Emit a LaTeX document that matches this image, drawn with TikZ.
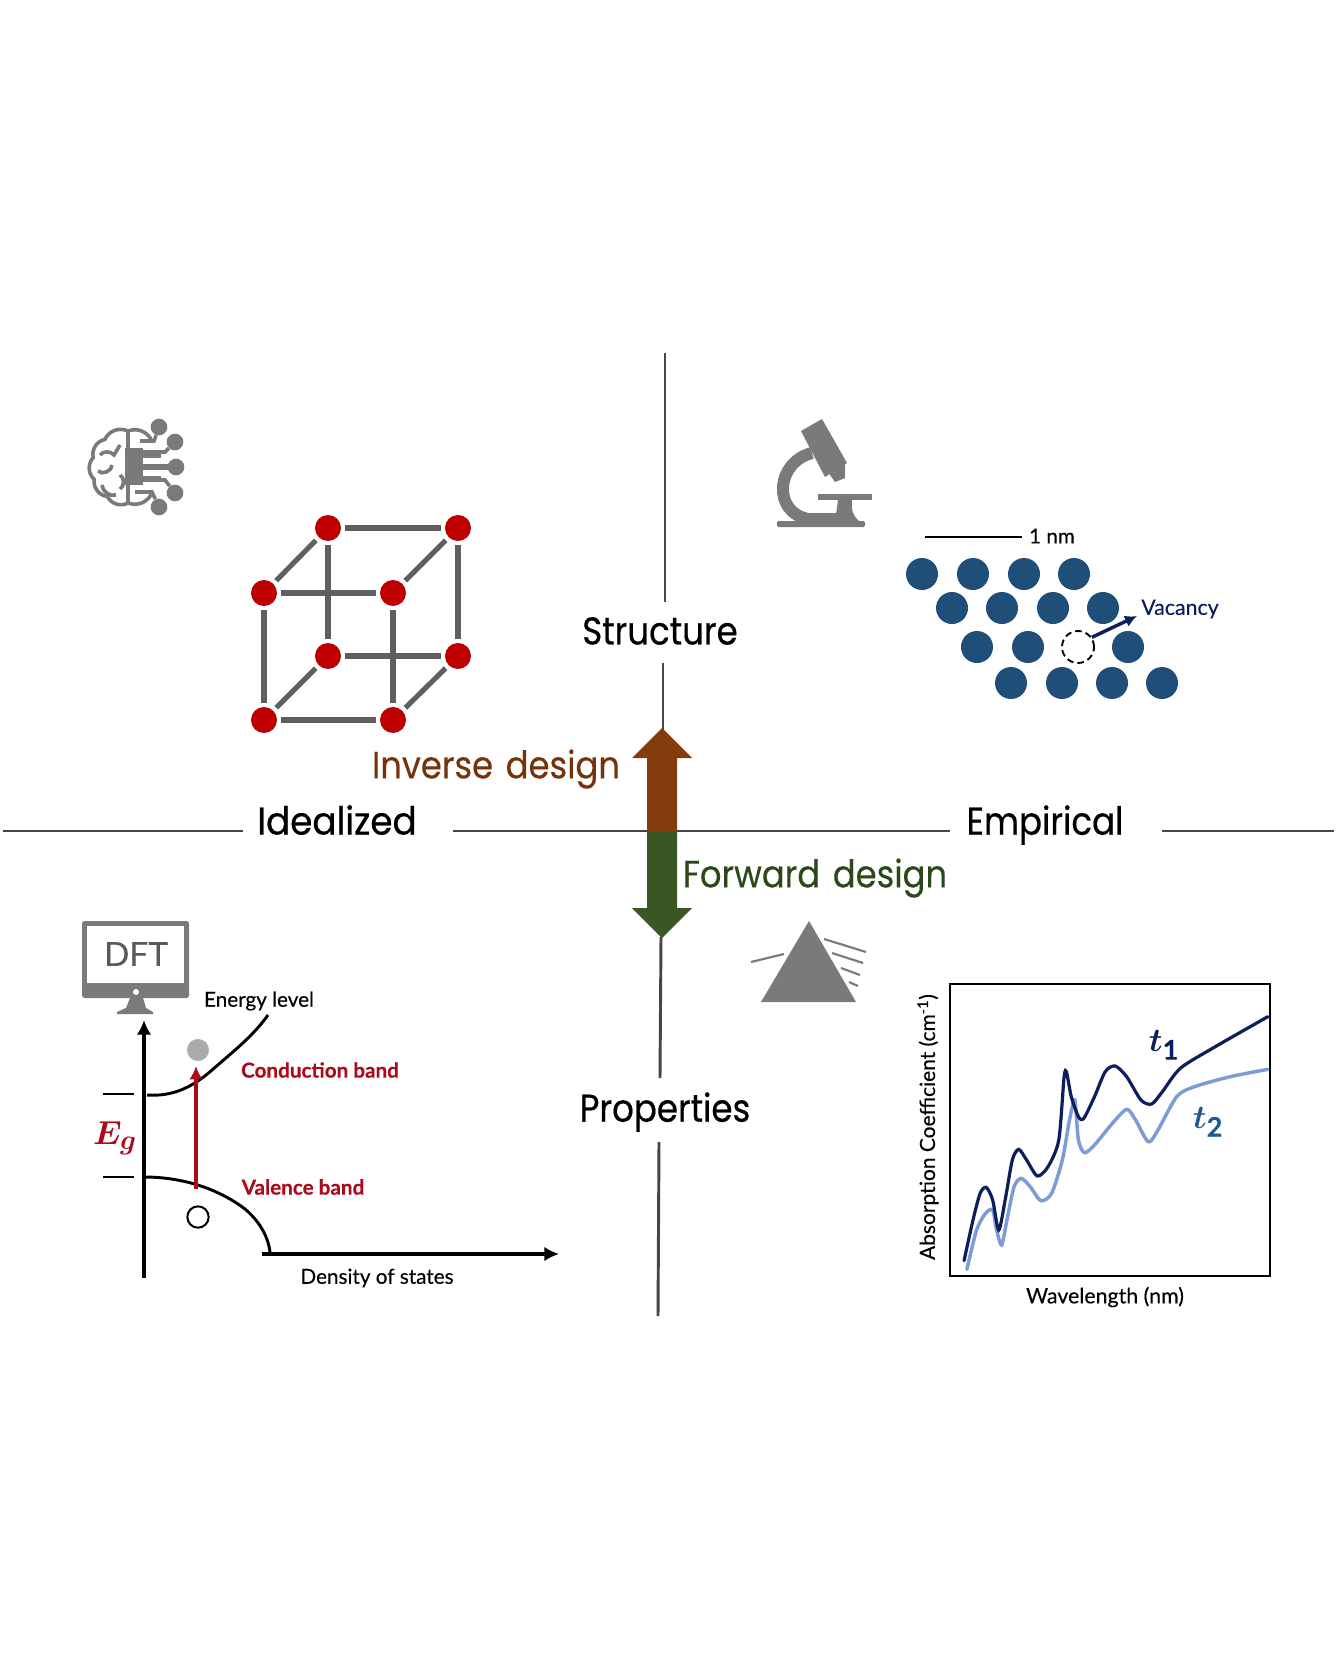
\documentclass[tikz,border=0pt]{standalone}
\usepackage{amsmath,amssymb}
\usepackage{fontspec}
\usepackage{xcolor}
\setmainfont{Lato}[FakeBold=0.25]
\newfontfamily\headfont[FakeStretch=0.88,FakeBold=0.5]{Poppins}
\newfontfamily\designfont[FakeStretch=0.89,WordSpace=1.4,FakeBold=0.2]{Poppins}
\usetikzlibrary{arrows.meta,calc,positioning}
\definecolor{iconGray}{RGB}{122,122,122}
\definecolor{boneGray}{RGB}{95,95,95}
\definecolor{axisGray}{RGB}{70,70,70}
\definecolor{cubeRed}{RGB}{192,0,0}
\definecolor{bandRed}{RGB}{170,10,25}
\definecolor{atomBlue}{RGB}{31,78,121}
\definecolor{deepNavy}{RGB}{12,30,92}
\definecolor{paleBlue}{RGB}{125,155,215}
\definecolor{labelBlue}{RGB}{30,90,145}
\definecolor{inverseBrown}{RGB}{132,60,12}
\definecolor{inverseText}{RGB}{118,50,8}
\definecolor{forwardGreen}{RGB}{56,87,35}
\definecolor{forwardText}{RGB}{42,72,24}

\begin{document}
\begin{tikzpicture}[
    x=0.75pt, y=-0.75pt,
    quadline/.style={draw=axisGray, line width=2.2pt},
    head/.style={font=\headfont\fontsize{29}{32}\selectfont, text=black},
    design/.style={font=\designfont\fontsize{28.5}{32}\selectfont},
    small/.style={font=\fontsize{15.5}{18}\selectfont, text=black, inner sep=0pt},
    band/.style={small, text=bandRed, font=\fontsize{15.5}{18}\selectfont\bfseries},
    cubenode/.style={circle, fill=cubeRed, draw=cubeRed!85!black, line width=0.4pt, minimum size=19pt, inner sep=0pt, outer sep=3.5pt},
    bond/.style={draw=boneGray, line width=3.8pt},
    atom/.style={circle, fill=atomBlue, minimum size=24pt, inner sep=0pt},
    iconline/.style={draw=iconGray, line width=2.7pt},
    chipdot/.style={circle, fill=iconGray, minimum size=12.5pt, inner sep=0pt},
    blackline/.style={draw=black, line width=2.2pt},
    axisarrow/.style={blackline, line width=3pt, -{Latex[length=11pt, width=11pt]}}
  ]
  \useasboundingbox (0,0) rectangle (1336,1670);
  \fill[white] (0,0) rectangle (1336,1670);

  % quadrant lines
  \coordinate (topstart) at (665,353);
  \coordinate (topend) at (665,602);
  \coordinate (midstart) at (663,663);
  \coordinate (tipup) at (663,730);
  \coordinate (tipdown) at (661,937);
  \coordinate (lowend) at (660,1078);
  \coordinate (botstart) at (659,1142);
  \coordinate (botend) at (658,1316);
  \coordinate (leftstart) at (3,831);
  \coordinate (leftend) at (243,831);
  \coordinate (centerstart) at (453,831);
  \coordinate (centerend) at (950,831);
  \coordinate (rightstart) at (1162,831);
  \coordinate (rightend) at (1334,831);
  \draw[quadline] (topstart) -- (topend);
  \draw[quadline] (midstart) -- (tipup);
  \draw[quadline] (tipdown) -- (lowend);
  \draw[quadline] (botstart) -- (botend);
  \draw[quadline] (leftstart) -- (leftend);
  \draw[quadline] (centerstart) -- (centerend);
  \draw[quadline] (rightstart) -- (rightend);

  \node[head] (structure) at (660,631) {Structure};
  \node[head] (properties) at (665,1112) {Properties};
  \node[head, xscale=1.05] (idealized) at (337,820) {Idealized};
  \node[head] (empirical) at (1045,825) {Empirical};

  % design arrows
  \fill[inverseBrown] (662,728) -- (692,758) -- (677,758) -- (677,832) -- (647,832) -- (647,758) -- (632,758) -- cycle;
  \fill[forwardGreen] (647,832) -- (677,832) -- (677,908) -- (692,908) -- (662,938) -- (632,908) -- (647,908) -- cycle;
  \node[design, text=inverseText] (inverse) at (496,769) {Inverse design};
  \node[design, text=forwardText] (forward) at (815,878) {Forward design};

  % cube
  \node[cubenode] (c1) at (328,528) {};
  \node[cubenode] (c2) at (458,528) {};
  \node[cubenode] (c3) at (264,593) {};
  \node[cubenode] (c4) at (393,593) {};
  \node[cubenode] (c5) at (328,656) {};
  \node[cubenode] (c6) at (458,656) {};
  \node[cubenode] (c7) at (264,720) {};
  \node[cubenode] (c8) at (393,720) {};
  \foreach \a/\b in {c1/c2,c1/c3,c2/c4,c3/c4,c1/c5,c2/c6,c5/c6,c3/c7,c4/c8,c7/c8,c5/c7,c6/c8}
    \draw[bond] (\a) -- (\b);

  % brain icon
  \begin{scope}[shift={(128,467)}]
    \draw[iconline, line cap=round] (90:36)
      to[bend left=45] (125:36) to[bend left=45] (160:36) to[bend left=45] (195:36)
      to[bend left=45] (230:36) to[bend left=45] (270:36);
    \draw[iconline] (90:36) to[bend right=40] (50:36);
    \draw[iconline] (270:36) to[bend left=40] (-50:36);
    \draw[iconline] (0,-36) -- (0,36);
    \draw[iconline] (-28,-12) to[bend left=50] (-14,-12) -- (-8,-22);
    \draw[iconline] (-30,4) to[bend right=70] (-16,-2);
    \draw[iconline] (-8,8) to[bend left=60] (-8,22);
    \draw[iconline] (-26,18) to[bend right=50] (-12,28);
    \fill[iconGray] (-3,-19) rectangle (15,18);
    \fill[iconGray] (15,-15) rectangle (33,-9);
    \fill[iconGray] (15,-3) rectangle (40,3);
    \fill[iconGray] (15,9) rectangle (33,15);
  \end{scope}
  \node[chipdot] (dot1) at (159,427) {};
  \node[chipdot] (dot2) at (175,442) {};
  \node[chipdot] (dot3) at (176,467) {};
  \node[chipdot] (dot4) at (175,493) {};
  \node[chipdot] (dot5) at (159,507) {};
  \draw[iconline] (140,441) -- (154,441) -- (dot1);
  \draw[iconline] (143,452) -- (165,452) -- (dot2);
  \draw[iconline] (160,467) -- (dot3);
  \draw[iconline] (143,480) -- (165,480) -- (dot4);
  \draw[iconline] (135,492) -- (152,492) -- (dot5);

  % microscope icon
  \fill[iconGray] (801,431) -- (822,419) -- (847,463) -- (825,477) -- cycle;
  \fill[iconGray] (828,472) -- (845,462) -- (845,478) -- (835,482) -- cycle;
  \draw[iconGray, line width=9pt] (812,453) .. controls (776,462) and (772,512) .. (808,519) -- (845,519);
  \fill[iconGray] (818,494) rectangle (872,500);
  \fill[iconGray] (838,500) -- (852,500) .. controls (851,510) and (853,516) .. (860,522) -- (835,522) -- cycle;
  \fill[iconGray, rounded corners=1pt] (777,521) rectangle (865,527);

  % atoms
  \foreach \n/\px/\py in {a1/922/574,a2/973/574,a3/1024/574,a4/1074/574,
      a5/952/608,a6/1002/608,a7/1053/608,a8/1103/608,
      a9/977/647,a10/1028/647,a11/1128/647,
      a12/1011/683,a13/1062/683,a14/1112/683,a15/1162/683}
    \node[atom] (\n) at (\px,\py) {};
  \node[circle, draw=black, line width=1.4pt, dash pattern=on 5pt off 3pt, fill=white, minimum size=24pt, inner sep=0pt] (vacancy) at (1078,647) {};
  \node[small, text=deepNavy, font=\fontsize{16}{18}\selectfont] (vaclabel) at (1180,609) {Vacancy};
  \coordinate (vactip) at (1137,616);
  \draw[draw=deepNavy, line width=2.6pt, -{Latex[length=9pt, width=9pt]}] (vacancy.35) -- (vactip);
  \coordinate (barstart) at (925,537);
  \coordinate (barend) at (1022,537);
  \draw[blackline] (barstart) -- (barend);
  \node[small, font=\fontsize{15.5}{18}\selectfont] (scalelabel) at (1052,536) {1 nm};

  % monitor icon
  \fill[iconGray, rounded corners=2pt] (82,921) rectangle (189,998);
  \fill[white] (87,926) rectangle (184,983);
  \fill[white] (136,992) circle (3);
  \fill[iconGray] (130,998) -- (143,998) -- (146,1008) -- (153,1012) -- (153,1014) -- (117,1014) -- (117,1012) -- (126,1008) -- cycle;
  \node[font=\fontsize{25}{28}\selectfont, text=black!65, inner sep=0pt] (dft) at (136,954) {DFT};

  % band diagram
  \coordinate (axisbottom) at (144,1278);
  \coordinate (axistop) at (144,1020);
  \coordinate (dosstart) at (262,1254);
  \coordinate (dosend) at (559,1254);
  \draw[axisarrow] (axisbottom) -- (axistop);
  \draw[axisarrow] (dosstart) -- (dosend);
  \draw[blackline] (103,1094) -- (134,1094);
  \draw[blackline] (103,1177) -- (134,1177);
  \draw[blackline] (147,1095) .. controls (175,1097) and (195,1085) .. (212,1070)
    .. controls (235,1050) and (253,1036) .. (268,1015);
  \draw[blackline] (144,1177) .. controls (185,1177) and (220,1190) .. (245,1209)
    .. controls (258,1220) and (268,1235) .. (270,1252);
  \coordinate (excitestart) at (196,1189);
  \coordinate (excitetip) at (196,1066);
  \draw[draw=bandRed, line width=3pt, -{Latex[length=10pt, width=10pt]}] (excitestart) -- (excitetip);
  \node[circle, fill=black!33, minimum size=16.5pt, inner sep=0pt] (electron) at (198,1050) {};
  \node[circle, draw=black, line width=1.5pt, fill=white, minimum size=16pt, inner sep=0pt] (hole) at (198,1217) {};
  \node[small] (energy) at (259,1001) {Energy level};
  \node[band] (conduction) at (320,1070) {Conduction band};
  \node[band] (valence) at (303,1187) {Valence band};
  \node[small] (density) at (377,1278) {Density of states};
  \node[text=bandRed, font=\fontsize{28}{30}\selectfont, inner sep=0pt] (gap) at (115,1138) {$\boldsymbol{E_g}$};

  % prism icon
  \fill[iconGray] (809,921) -- (856,1002) -- (761,1002) -- cycle;
  \draw[iconline, line width=1.6pt] (751,962) -- (784,954);
  \draw[iconline, line width=1.6pt] (824,939) -- (866,952);
  \draw[iconline, line width=1.6pt] (832,953) -- (863,963);
  \draw[iconline, line width=1.6pt] (841,968) -- (860,975);
  \draw[iconline, line width=1.6pt] (849,982) -- (858,986);

  % absorption plot
  \node[draw=black, line width=1.8pt, minimum width=240pt, minimum height=219pt, inner sep=0pt] (plotbox) at (1110,1130) {};
  \begin{scope}[shift={(730,900)}, x=0.268pt, y=-0.25pt]
    \draw[paleBlue, line width=2.6pt, line cap=round] plot[smooth, tension=0.45] coordinates {(663,1108) (690,990) (715,940) (735,930) (745,985) (760,1035) (775,960) (795,860) (815,835) (840,860) (870,902) (900,880) (930,780) (950,660) (965,600) (975,720) (992,758) (1020,735) (1070,670) (1110,628) (1135,660) (1170,725) (1195,695) (1250,590) (1300,560) (1400,530) (1505,508)};
    \draw[deepNavy, line width=2.4pt, line cap=round] plot[smooth, tension=0.45] coordinates {(655,1082) (680,960) (700,880) (717,862) (735,900) (752,990) (770,900) (790,780) (808,748) (830,780) (860,828) (890,800) (920,720) (935,530) (942,518) (955,590) (975,650) (990,655) (1020,590) (1050,515) (1078,498) (1110,530) (1150,600) (1180,612) (1210,575) (1260,505) (1350,445) (1505,350)};
  \end{scope}
  \node[text=deepNavy, font=\fontsize{29}{31}\selectfont, inner sep=0pt] (t1) at (1164,1045) {$\boldsymbol{t}_{\mathbf{1}}$};
  \node[text=labelBlue, font=\fontsize{29}{31}\selectfont, inner sep=0pt] (t2) at (1208,1122) {$\boldsymbol{t}_{\mathbf{2}}$};
  \node[small, rotate=90, font=\fontsize{15.7}{18}\selectfont] (ylabel) at (928,1127) {Absorption Coefficient (cm\textsuperscript{-1})};
  \node[small, font=\fontsize{16}{18}\selectfont] (xlabel) at (1105,1297) {Wavelength (nm)};
\end{tikzpicture}
\end{document}
